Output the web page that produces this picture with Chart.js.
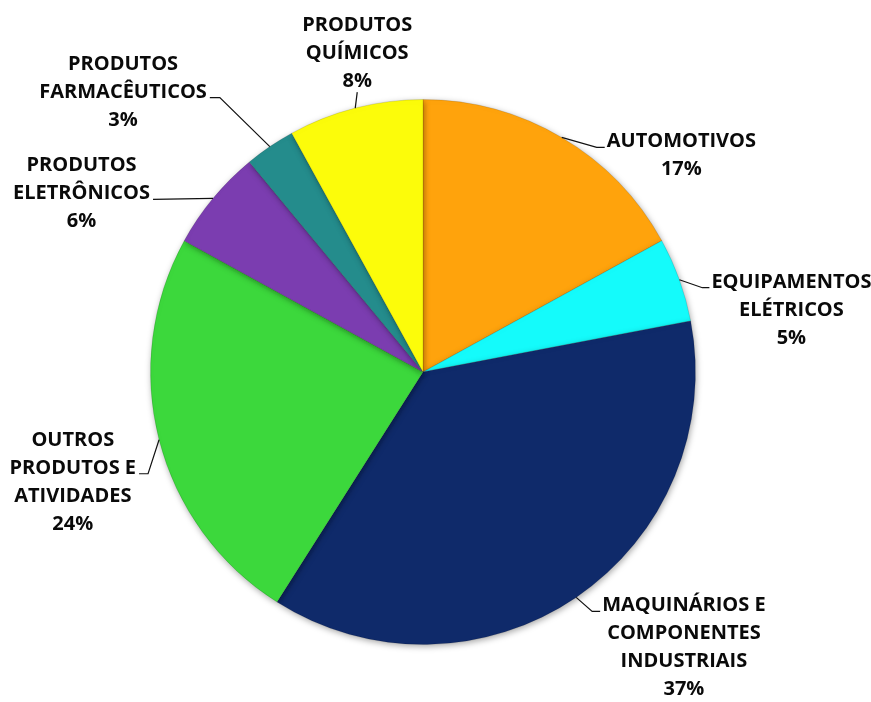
<!DOCTYPE html>
<html>
<head>
<meta charset="utf-8">
<script src="https://cdn.jsdelivr.net/npm/chart.js@4.4.1/dist/chart.umd.min.js"></script>
<style>
  html, body { margin: 0; padding: 0; background: #ffffff; }
  #chart-wrap { width: 871px; height: 702px; }
</style>
</head>
<body>
<div id="chart-wrap"><canvas id="sector-pie" width="871" height="702"></canvas></div>
<script>
// sectors, clockwise from 12 o'clock
const CATEGORIES = [
  ["AUTOMOTIVOS"],
  ["EQUIPAMENTOS", "ELÉTRICOS"],
  ["MAQUINÁRIOS E", "COMPONENTES", "INDUSTRIAIS"],
  ["OUTROS", "PRODUTOS E", "ATIVIDADES"],
  ["PRODUTOS", "ELETRÔNICOS"],
  ["PRODUTOS", "FARMACÊUTICOS"],
  ["PRODUTOS", "QUÍMICOS"],
];
const SHARES = [17, 5, 37, 24, 6, 3, 8];
const SLICE_COLORS = ["#ffa30c", "#14fbfb", "#0f2a6a", "#3cd83c", "#7b3db0", "#248c8c", "#fcfc0a"];

// leader line shape for each label: elbow offset from slice edge, tick length, side, line of text it meets
const LABEL_LAYOUT = [
  { dx: 35, dy: 10, tick: 8, side: "right", attach: 0 },
  { dx: 23, dy: 8, tick: 7, side: "right", attach: 0 },
  { dx: 16, dy: 14, tick: 8, side: "right", attach: 0 },
  { dx: -11, dy: 34, tick: 9, side: "left", attach: 1 },
  { dx: -60, dy: 1, tick: 0, side: "left", attach: 1 },
  { dx: -50, dy: -49, tick: 10, side: "left", attach: 1 },
  { dx: 2, dy: -16, tick: 0, side: "top", attach: 2 },
];

; (function (document) {
  "use strict";

  const FONT = "bold 20px 'Open Sans', 'DejaVu Sans', sans-serif";
  const LINE_HEIGHT = 28;

  // leader lines + multi-line labels
  const outsideLabels = {
    id: "outsideLabels",
    afterDatasetsDraw: (chart) => {
      const { ctx } = chart;
      const meta = chart.getDatasetMeta(0);
      ctx.save();
      ctx.font = FONT;
      ctx.fillStyle = "#0a0a0a";
      ctx.strokeStyle = "#111111";
      ctx.lineWidth = 1.2;
      ctx.textBaseline = "alphabetic";
      ctx.textAlign = "center";

      meta.data.forEach((arc, i) => {
        const mid = (arc.startAngle + arc.endAngle) / 2;
        const ex = arc.x + Math.cos(mid) * arc.outerRadius;
        const ey = arc.y + Math.sin(mid) * arc.outerRadius;
        const lay = LABEL_LAYOUT[i];
        const bx = ex + lay.dx;
        const by = ey + lay.dy;
        const lines = CATEGORIES[i].concat([SHARES[i] + "%"]);
        const attachW = ctx.measureText(lines[lay.attach]).width;

        let tx = bx;
        if (lay.side === "right") tx = bx + lay.tick;
        if (lay.side === "left") tx = bx - lay.tick;

        ctx.beginPath();
        ctx.moveTo(ex, ey);
        ctx.lineTo(bx, by);
        if (lay.tick) ctx.lineTo(tx, by);
        ctx.stroke();

        let cx = tx;
        let baseline = by;
        if (lay.side === "right") cx = tx + 2 + attachW / 2;
        if (lay.side === "left") cx = tx - 3 - attachW / 2;
        if (lay.side === "top") baseline = by - 5;

        lines.forEach((txt, k) => {
          ctx.fillText(txt, cx, baseline + (k - lay.attach) * LINE_HEIGHT);
        });
      });
      ctx.restore();
    },
  };

  // soft shading round each slice
  const sliceShadow = {
    id: "sliceShadow",
    beforeDatasetsDraw: (chart) => {
      const { ctx } = chart;
      ctx.save();
      ctx.shadowColor = "rgba(0, 0, 0, 0.35)";
      ctx.shadowBlur = 6;
      ctx.shadowOffsetX = 1;
      ctx.shadowOffsetY = 2;
    },
    afterDatasetsDraw: (chart) => {
      chart.ctx.restore();
    },
  };

  const ctx = document.getElementById("sector-pie").getContext("2d");
  new Chart(ctx, {
    type: "pie",
    data: {
      labels: CATEGORIES,
      datasets: [
        {
          data: SHARES,
          backgroundColor: SLICE_COLORS,
          borderColor: "rgba(0, 0, 0, 0.12)",
          borderWidth: 1,
        },
      ],
    },
    options: {
      responsive: false,
      animation: false,
      layout: {
        padding: { left: 150, right: 175, top: 99, bottom: 57 },
      },
      plugins: {
        legend: { display: false },
        tooltip: { enabled: false },
      },
    },
    plugins: [sliceShadow, outsideLabels],
  });
})(document);
</script>
</body>
</html>
